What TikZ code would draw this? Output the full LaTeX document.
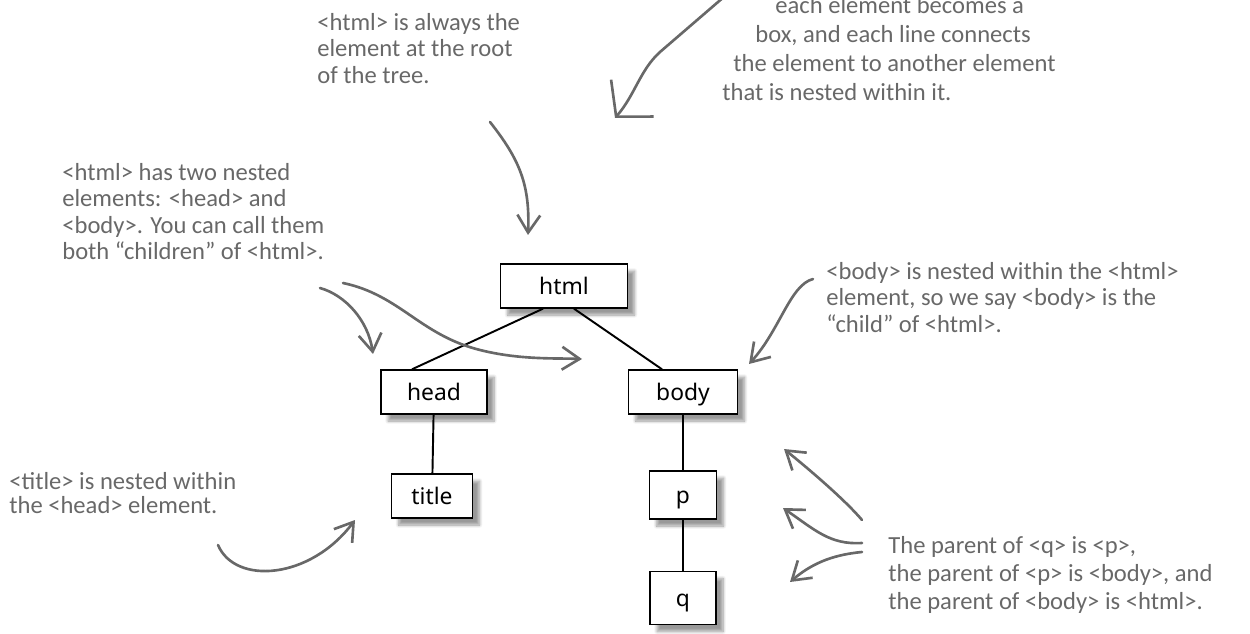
\documentclass[tikz,border=0pt]{standalone}
\usepackage{fontspec}
\usepackage{xcolor}
\newfontfamily\notefont{Carlito}
\newfontfamily\boxfont{Noto Sans}
\usetikzlibrary{arrows.meta,calc,shadows.blur}
\definecolor{notegray}{RGB}{104,104,104}

\begin{document}
\begin{tikzpicture}[x=0.02cm,y=-0.02cm,
    elem/.style={draw,line width=0.8pt,fill=white,inner sep=0pt,
      font=\boxfont\fontsize{13}{15}\selectfont,minimum height=0.88cm,
      text height=11.5pt,text depth=2pt,
      blur shadow={shadow xshift=4pt,shadow yshift=-4pt,shadow blur steps=8,shadow opacity=40}},
    edge/.style={line width=1.1pt},
    note/.style={anchor=north west,inner sep=0pt,align=left,text=notegray,
      font=\notefont\fontsize{14}{15}\selectfont},
    pointer/.style={draw=notegray,line width=1.5pt,line cap=round,line join=round,
      -{Straight Barb[length=10pt,width=13pt]}}]
    \useasboundingbox (0,0) rectangle (1250,634);

    % the tree
    \node[elem,minimum width=2.54cm] (html) at (564,286) {html};
    \node[elem,minimum width=2.12cm] (head) at (434,392) {head};
    \node[elem,minimum width=2.18cm] (body) at (683,392) {body};
    \node[elem,minimum width=1.62cm] (title) at (432,496) {title};
    \node[elem,minimum width=1.34cm,minimum height=0.96cm] (p) at (683,495) {p};
    \node[elem,minimum width=1.32cm,minimum height=1.06cm] (q) at (683,598) {q};
    \draw[edge] ($(html.south)+(-21,0)$) -- ($(head.north)+(-22,0)$);
    \draw[edge] ($(html.south)+(10,0)$) -- ($(body.north)+(-21,0)$);
    \draw[edge] (head) -- (title);
    \draw[edge] (body) -- (p);
    \draw[edge] (p) -- (q);

    % notes
    \node[note] (rootnote) at (317,13)
      {<html> is always the\\element at the root\\of the tree.};
    \node[note,font=\notefont\fontsize{14}{16.5}\selectfont] (boxnote) at (722,-4)
      {\hspace*{1.06cm}each element becomes a\\
       \hspace*{0.66cm}box, and each line connects\\
       \hspace*{0.22cm}the element to another element\\
       that is nested within it.};
    \node[note] (kidsnote) at (62,163)
      {<html> has two nested\\elements: <head> and\\<body>. You can call them\\both “children” of <html>.};
    \node[note] (childnote) at (826,262)
      {<body> is nested within the <html>\\element, so we say <body> is the\\“child” of <html>.};
    \node[note,font=\notefont\fontsize{14}{16}\selectfont] (parentnote) at (888,536)
      {The parent of <q> is <p>,\\the parent of <p> is <body>, and\\the parent of <body> is <html>.};
    \node[note,font=\notefont\fontsize{14}{13.6}\selectfont] (titlenote) at (9,472)
      {<title> is nested within\\the <head> element.};

    % pointers
    \coordinate (rootfrom) at (490,122);
    \coordinate (roottip) at (528,235);
    \coordinate (boxfrom) at (725,-4);
    \coordinate (boxbend) at (660,52);
    \coordinate (boxtip) at (615,118);
    \coordinate (kidsfrom) at (320,288);
    \coordinate (headtip) at (373,354);
    \coordinate (kidsfrom2) at (343,283);
    \coordinate (kidsmid) at (480,350);
    \coordinate (bodytip) at (582,359);
    \coordinate (childfrom) at (813,279);
    \coordinate (childtip) at (749,364);
    \coordinate (pfrom) at (862,520);
    \coordinate (ptip) at (784,449);
    \coordinate (qfrom) at (862,543);
    \coordinate (qtip) at (783,508);
    \coordinate (lastfrom) at (862,552);
    \coordinate (lasttip) at (790,582);
    \coordinate (titlefrom) at (218,545);
    \coordinate (titletip) at (355,520);

    \draw[pointer] (rootfrom) .. controls (520,160) and (530,185) .. (roottip);
    \draw[pointer,-{Straight Barb[length=14pt,width=32pt]}]
      (boxfrom) -- (boxbend) .. controls (640,70) and (635,95) .. (boxtip);
    \draw[pointer] (kidsfrom) .. controls (345,295) and (368,320) .. (headtip);
    \draw[pointer] (kidsfrom2) .. controls (400,295) and (420,335) .. (kidsmid)
      .. controls (520,360) and (555,358) .. (bodytip);
    \draw[pointer] (childfrom) .. controls (790,285) and (780,330) .. (childtip);
    \draw[pointer] (pfrom) .. controls (845,500) and (810,470) .. (ptip);
    \draw[pointer] (qfrom) .. controls (830,545) and (815,530) .. (qtip);
    \draw[pointer] (lastfrom) .. controls (830,555) and (810,565) .. (lasttip);
    \draw[pointer] (titlefrom) .. controls (235,585) and (310,580) .. (titletip);
\end{tikzpicture}
\end{document}
